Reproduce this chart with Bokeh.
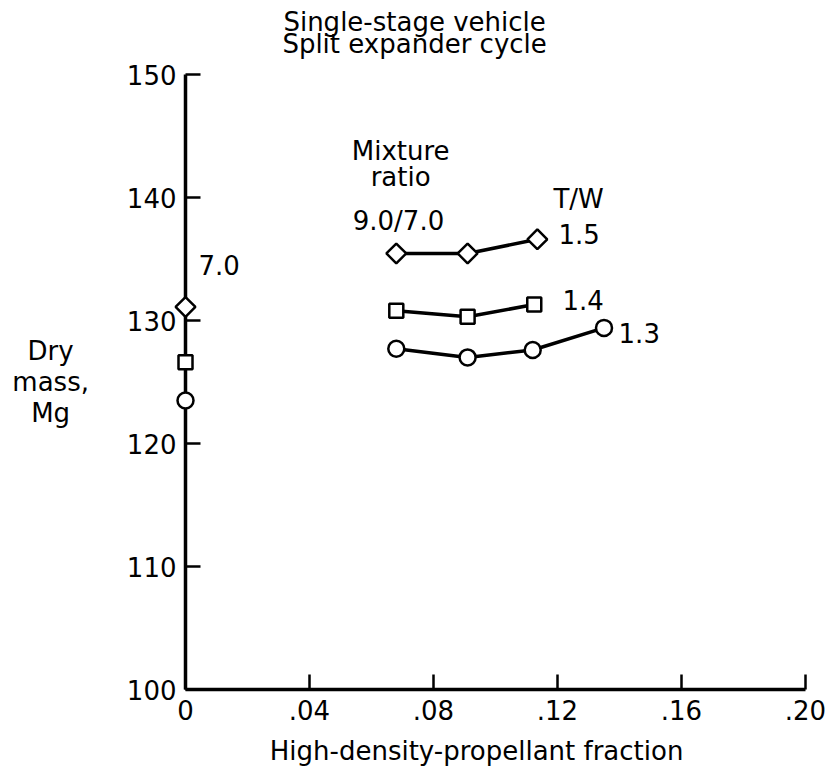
from bokeh.plotting import figure
from bokeh.models import Range1d, FixedTicker, Label
from bokeh.embed import file_html
from bokeh.resources import INLINE

# ---- data ----
x_ticks = [0, 0.04, 0.08, 0.12, 0.16, 0.20]
x_tick_labels = ["0", ".04", ".08", ".12", ".16", ".20"]
y_ticks = [100, 110, 120, 130, 140, 150]

# Mixture ratio 9.0/7.0 curves, by thrust-to-weight
fraction_15 = [0.068, 0.091, 0.1135]
mass_15 = [135.45, 135.45, 136.6]
fraction_14 = [0.068, 0.091, 0.1125]
mass_14 = [130.8, 130.3, 131.3]
fraction_13 = [0.068, 0.091, 0.112, 0.135]
mass_13 = [127.7, 127.0, 127.6, 129.4]

# Mixture ratio 7.0 (zero high-density propellant)
fraction_zero = [0.0, 0.0, 0.0]
mass_zero = [131.1, 126.6, 123.5]   # T/W 1.5, 1.4, 1.3

FONT = "DejaVu Sans"
FS = "26px"

# frame spans the whole canvas; axes are placed at x=0 and y=100
W, H = 826, 769
px_x = 3100.0   # pixels per unit of fraction
px_y = 12.3     # pixels per Mg
x0_px, y150_px = 185, 74
xr = Range1d(-x0_px / px_x, (W - x0_px) / px_x)
yr = Range1d(150 - (H - y150_px) / px_y, 150 + y150_px / px_y)

p = figure(width=W, height=H, output_backend="svg", toolbar_location=None,
           x_range=xr, y_range=yr,
           min_border_left=0, min_border_right=0, min_border_top=0,
           min_border_bottom=0, outline_line_color=None,
           background_fill_color="white", border_fill_color="white")
p.xgrid.visible = False
p.ygrid.visible = False

for ax in (p.xaxis[0], p.yaxis[0]):
    ax.axis_line_width = 3.5
    ax.axis_line_color = "black"
    ax.major_tick_line_width = 2.5
    ax.major_tick_line_color = "black"
    ax.major_tick_in = 15
    ax.major_tick_out = 0
    ax.minor_tick_line_color = None
    ax.major_label_text_font = FONT
    ax.major_label_text_font_size = FS
    ax.major_label_text_color = "black"

p.xaxis.ticker = FixedTicker(ticks=x_ticks)
p.xaxis.major_label_overrides = {t: l for t, l in zip(x_ticks, x_tick_labels)}
p.xaxis.bounds = (0, 0.2)
p.xaxis.fixed_location = 100
p.xaxis.major_label_standoff = 10
p.yaxis.ticker = FixedTicker(ticks=y_ticks)
p.yaxis.bounds = (100, 150)
p.yaxis.fixed_location = 0
p.yaxis.major_label_standoff = 9

def diamond_pts(xs, ys, **kw):
    return p.scatter(xs, ys, marker="square", angle=0.7854, size=14,
                     fill_color="white", line_color="black", line_width=2.5, **kw)

# curves
p.line(fraction_15, mass_15, line_width=3.5, line_color="black")
p.line(fraction_14, mass_14, line_width=3.5, line_color="black")
p.line(fraction_13, mass_13, line_width=3.5, line_color="black")
diamond_pts(fraction_15, mass_15)
p.scatter(fraction_14, mass_14, marker="square", size=14, fill_color="white",
          line_color="black", line_width=2.5)
p.scatter(fraction_13, mass_13, marker="circle", size=16, fill_color="white",
          line_color="black", line_width=2.5)

# points on the axis (mixture ratio 7.0)
diamond_pts(fraction_zero[:1], mass_zero[:1], level="overlay")
p.scatter(fraction_zero[1:2], mass_zero[1:2], marker="square", size=14,
          fill_color="white", line_color="black", line_width=2.5, level="overlay")
p.scatter(fraction_zero[2:], mass_zero[2:], marker="circle", size=16,
          fill_color="white", line_color="black", line_width=2.5, level="overlay")

def lab(x, y, text, align="center"):
    p.add_layout(Label(x=x, y=y, text=text, text_font=FONT, text_font_size=FS,
                       text_color="black", text_align=align, text_baseline="middle"))

# title
lab(0.0739, 154.3, "Single-stage vehicle")
lab(0.0739, 152.5, "Split expander cycle")
# annotations
lab(0.0694, 143.8, "Mixture")
lab(0.0694, 141.7, "ratio")
lab(0.0687, 138.05, "9.0/7.0")
lab(0.1268, 139.9, "T/W")
lab(0.1203, 137.0, "1.5", "left")
lab(0.1216, 131.7, "1.4", "left")
lab(0.1397, 129.0, "1.3", "left")
lab(0.0042, 134.5, "7.0", "left")
# axis titles
lab(-0.0435, 127.5, "Dry")
lab(-0.0435, 125.0, "mass,")
lab(-0.0435, 122.5, "Mg")
lab(0.0939, 95.0, "High-density-propellant fraction")

open("out.html", "w").write(file_html(p, INLINE))
